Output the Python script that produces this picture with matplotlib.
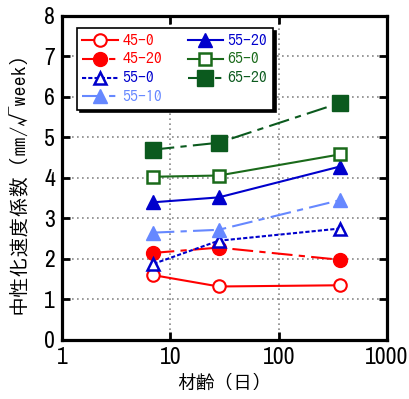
import matplotlib
matplotlib.use("Agg")
import matplotlib.pyplot as plt
from matplotlib.ticker import FixedLocator, NullLocator, FixedFormatter

plt.rcParams['font.family'] = ['Archivo Narrow', 'IPAGothic', 'DejaVu Sans']
jp = ['IPAGothic', 'Noto Sans CJK JP', 'DejaVu Sans']

# 材齢 (日)
age = [7, 28, 365]

# 中性化速度係数 per mix
c45_0 = [1.60, 1.32, 1.35]
c45_20 = [2.15, 2.28, 1.98]
c55_0 = [1.88, 2.45, 2.75]
c55_10 = [2.65, 2.72, 3.45]
c55_20 = [3.40, 3.52, 4.28]
c65_0 = [4.03, 4.06, 4.58]
c65_20 = [4.70, 4.87, 5.85]

red = '#ff0000'
blue = '#0000cc'
lblue = '#6688ff'
green = '#1a6a1a'
dgreen = '#0b5a1e'

fig = plt.figure(figsize=(4.10, 3.99), dpi=100)
ax = fig.add_axes([0.151, 0.148, 0.793, 0.812])

lw = 1.5
ms = 9
dashdot = (0, (10, 3, 3, 3))
ax.plot(age, c45_0, color=red, lw=lw, marker='o', ms=ms, mfc='white', mew=1.5, label='45-0')
ax.plot(age, c45_20, color=red, lw=lw, ls=dashdot, marker='o', ms=ms + 1, mfc=red, label='45-20')
ax.plot(age, c55_0, color=blue, lw=lw, ls=(0, (2, 1)), marker='^', ms=ms, mfc='white', mew=1.8, label='55-0')
ax.plot(age, c55_10, color=lblue, lw=lw, ls=dashdot, marker='^', ms=ms + 1, mfc=lblue, label='55-10')
ax.plot(age, c55_20, color=blue, lw=lw, marker='^', ms=ms + 1, mfc=blue, label='55-20')
ax.plot(age, c65_0, color=green, lw=lw, marker='s', ms=ms, mfc='white', mew=1.8, label='65-0')
ax.plot(age, c65_20, color=dgreen, lw=lw, ls=dashdot, marker='s', ms=ms + 2, mfc=dgreen, label='65-20')

ax.set_xscale('log')
ax.set_xlim(1, 1000)
ax.set_ylim(0, 8)
ax.xaxis.set_major_locator(FixedLocator([1, 10, 100, 1000]))
ax.xaxis.set_major_formatter(FixedFormatter(['1', '10', '100', '1000']))
ax.xaxis.set_minor_locator(NullLocator())
ax.set_yticks(range(0, 9))

ax.grid(True, color='#888888', ls=(0, (1, 2)), lw=1.2)
ax.tick_params(direction='in', length=6, width=2, top=True, right=True, labelsize=17, pad=5)
for s in ax.spines.values():
    s.set_linewidth(2.3)

ax.set_xlabel('材齢（日）', fontsize=13.5, family=jp, labelpad=4)
ax.set_ylabel('中性化速度係数（㎜/√week）', fontsize=14.5, family=jp, labelpad=12)

leg = ax.legend(loc='upper left', bbox_to_anchor=(0.046, 0.963), ncol=2, fancybox=False,
                edgecolor='black', framealpha=1, shadow={'color': 'black', 'alpha': 1},
                prop={'family': jp, 'size': 11.5},
                handlelength=2.2, handletextpad=0.3, columnspacing=1.6, labelspacing=0.3,
                borderpad=0.35, borderaxespad=0)
leg.get_frame().set_linewidth(1.2)
for txt, line in zip(leg.get_texts(), leg.get_lines()):
    txt.set_color(line.get_color())

fig.savefig('out.png', dpi=100)
